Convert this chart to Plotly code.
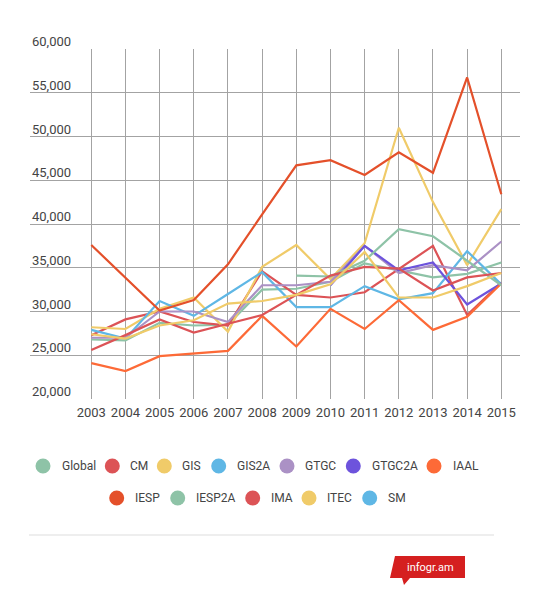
import plotly.graph_objects as go

years = list(range(2003, 2016))

series_names = ["Global", "CM", "GIS", "GIS2A", "GTGC", "GTGC2A", "IAAL",
                "IESP", "IESP2A", "IMA", "ITEC", "SM"]

series_colors = ["#8ec3a7", "#dc5356", "#f0cb69", "#5fb7e5", "#ab91c5", "#6d53dc", "#fd6a37",
                 "#e4502a", "#8ec3a7", "#dc5356", "#f0cb69", "#5fb7e5"]

global_vals = [26800, 26700, 28700, 28400, 28500, 32500, 32600, 33400, 35500, 34700, 33900, 34300, 35600]
cm_vals     = [27300, 29100, 30000, 28800, 28400, 34600, 31900, 31600, 32200, 34800, 37500, 29600, 33300]
gis_vals    = [28200, 28000, 30300, 31600, 27700, 35100, 37600, 33700, 37800, 51000, 42500, 35300, 41700]
gis2a_vals  = [27900, 26900, 31200, 29500, 32000, 34500, 30500, 30500, 32900, 31400, 32100, 36900, 33100]
gtgc_vals   = [27000, 27000, 30000, 30000, 28800, 33000, 33000, 33400, 37500, 34400, 35300, 34700, 38000]
gtgc2a_vals = [None, None, None, None, None, None, None, 33000, 37500, 34700, 35600, 30800, 33200]
iaal_vals   = [24100, 23200, 24900, 25200, 25500, 29500, 26000, 30300, 28000, 31300, 27900, 29400, 33200]
iesp_vals   = [37600, 33900, 30100, 31300, 35400, 41100, 46700, 47300, 45600, 48200, 45850, 56750, 43400]
iesp2a_vals = [None, None, None, None, None, None, 34100, 34000, 35800, 39400, 38600, 35800, 33000]
ima_vals    = [25600, 27300, 29100, 27600, 28600, 29600, 31900, 34100, 35100, 34900, 32400, 33900, 34400]
itec_vals   = [27400, 26900, 28400, 29000, 30900, 31200, 31900, 33100, 36800, 31600, 31600, 32900, 34400]
sm_vals     = [None] * 13

all_vals = [global_vals, cm_vals, gis_vals, gis2a_vals, gtgc_vals, gtgc2a_vals, iaal_vals,
            iesp_vals, iesp2a_vals, ima_vals, itec_vals, sm_vals]

y_ticks = [20000, 25000, 30000, 35000, 40000, 45000, 50000, 55000, 60000]
y_tick_text = ["20,000", "25,000", "30,000", "35,000", "40,000", "45,000", "50,000", "55,000", "60,000"]

# The page body adds an 8px offset, so the figure is 8px smaller and
# all window-pixel positions below are shifted by that offset.
OFF = 8
W, H = 550 - OFF, 607 - OFF
ML, MT = 30 - OFF, 49 - OFF
PW, PH = 490, 350
MR, MB = W - ML - PW, H - MT - PH


def px(x):
    return (x - OFF - ML) / PW


def py(y):
    return (MT + PH - (y - OFF)) / PH


FONT = "Roboto, 'Open Sans', sans-serif"
TXT = "#444444"

fig = go.Figure()

for name, color, vals in zip(series_names, series_colors, all_vals):
    fig.add_trace(go.Scatter(
        x=years, y=vals, mode="lines", name=name,
        line=dict(color=color, width=2.2),
        showlegend=False, connectgaps=False, hoverinfo="x+y+name",
    ))

fig.update_layout(
    width=W, height=H,
    margin=dict(l=ML, r=MR, t=MT, b=MB, pad=0, autoexpand=False),
    paper_bgcolor="white", plot_bgcolor="white",
    font=dict(family=FONT, size=13, color=TXT),
    showlegend=False,
    xaxis=dict(
        range=[2001.206, 2015.547], tickmode="array", tickvals=years,
        ticktext=[str(y) for y in years],
        showgrid=True, gridcolor="#a3a3a3", gridwidth=1,
        showline=False, zeroline=False, ticks="",
        tickfont=dict(family=FONT, size=13, color=TXT),
        ticklabelstandoff=4, fixedrange=True,
    ),
    yaxis=dict(
        range=[20000, 60000], tickmode="array", tickvals=y_ticks,
        showticklabels=False,
        showgrid=True, gridcolor="#a3a3a3", gridwidth=1,
        showline=False, zeroline=False, ticks="",
        fixedrange=True,
    ),
)

# y tick labels sitting above their gridlines at the left edge
for v, t in zip(y_ticks, y_tick_text):
    fig.add_annotation(xref="paper", yref="y", x=0, y=v, text=t, showarrow=False,
                       xanchor="left", yanchor="bottom", yshift=-2,
                       font=dict(family=FONT, size=13, color=TXT))

# custom legend: circle + label, two centred rows
legend_slots = [
    (43, 466, 60.7), (112.3, 466, 129.3), (164.3, 466, 181.3), (218.7, 466, 236),
    (287, 466, 304), (353.3, 466, 371), (434, 466, 451.7),
    (116.7, 498, 134.3), (177.7, 498, 195), (252.7, 498, 270), (309, 498, 326), (369.7, 498, 386.7),
]
for (cx, cy, tx), name, color in zip(legend_slots, series_names, series_colors):
    fig.add_shape(type="circle", xref="paper", yref="paper",
                  x0=px(cx - 7.5), x1=px(cx + 7.5), y0=py(cy + 7.5), y1=py(cy - 7.5),
                  fillcolor=color, line=dict(width=0))
    fig.add_annotation(xref="paper", yref="paper", x=px(tx - 1), y=py(cy), text=name,
                       showarrow=False, xanchor="left", yanchor="middle",
                       font=dict(family=FONT, size=12, color=TXT))

# separator line under legend
fig.add_shape(type="line", xref="paper", yref="paper",
              x0=px(29), x1=px(494), y0=py(535), y1=py(535),
              line=dict(color="#dddddd", width=1))

# infogr.am flag logo
pts = [(395, 556), (465, 556), (465, 578), (410, 578), (404, 585), (402, 578), (390, 578)]
path = "M " + " L ".join(f"{px(a):.5f},{py(b):.5f}" for a, b in pts) + " Z"
fig.add_shape(type="path", xref="paper", yref="paper", path=path,
              fillcolor="#d51f1f", line=dict(width=0))
fig.add_annotation(xref="paper", yref="paper", x=px(430), y=py(567),
                   text="infogr.am", showarrow=False,
                   font=dict(family=FONT, size=11, color="white"),
                   xanchor="center", yanchor="middle")

fig.write_html("out.html")
